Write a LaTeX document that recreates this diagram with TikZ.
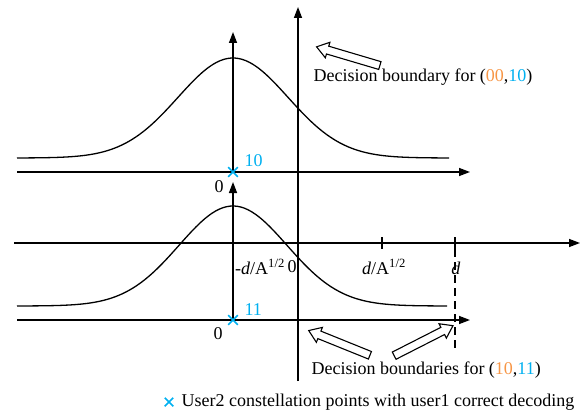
\documentclass[tikz,border=0pt]{standalone}
\usepackage{fontspec}
\setmainfont{Liberation Serif}
\usetikzlibrary{positioning, shapes.misc, shapes.arrows, arrows.meta}
\definecolor{ptorange}{HTML}{F79646}
\definecolor{ptblue}{HTML}{00B0F0}

\begin{document}
\begin{tikzpicture}[x=1pt, y=-1pt, font=\fontsize{18}{21}\selectfont,
    axis/.style={line width=1.4pt, -{Triangle[length=11pt,width=8pt]}},
    curve/.style={line width=1.3pt, smooth, samples=120},
    tick/.style={line width=1.4pt},
    userpt/.style={cross out, draw=ptblue, line width=1.7pt, minimum size=8pt, inner sep=0pt},
    hollow/.style={single arrow, draw, fill=white, line width=1.1pt, minimum height=66pt,
      inner sep=3.5pt, single arrow head extend=4pt, single arrow tip angle=70}]
    \useasboundingbox (0,0) rectangle (587,412);
    % main axes
    \coordinate (mx0) at (14,243);  \coordinate (mx1) at (580,243);
    \coordinate (my0) at (298,381); \coordinate (my1) at (298,7);
    \draw[axis] (mx0) -- (mx1);
    \draw[axis] (my0) -- (my1);
    % upper sub-axes (10)
    \coordinate (ua0) at (17,172); \coordinate (ua1) at (470,172);
    \coordinate (uo) at (233,172); \coordinate (uv1) at (233,32);
    \draw[axis] (ua0) -- (ua1);
    \draw[axis] (uo) -- (uv1);
    \draw[curve, domain=17:449] plot (\x, {158-100*exp(-((\x-233)/55)^2/2)});
    % lower sub-axes (11)
    \coordinate (la0) at (17,320); \coordinate (la1) at (470,320);
    \coordinate (lo) at (233,320); \coordinate (lv1) at (233,182);
    \draw[axis] (la0) -- (la1);
    \draw[axis] (lo) -- (lv1);
    \draw[curve, domain=17:447] plot (\x, {306-100*exp(-((\x-233)/54)^2/2)});
    % ticks
    \draw[tick] (233,237) -- (233,249);
    \draw[tick] (382,237) -- (382,249);
    \draw[tick] (455,237) -- (455,249);
    \draw[line width=1.5pt, dash pattern=on 8pt off 5pt] (455,249) -- (455,348);
    \node (lneg) at (260,267) {-\textit{d}/A\textsuperscript{1/2}};
    \node (lzero) at (292,267) {0};
    \node (lpos) at (384,267) {\textit{d}/A\textsuperscript{1/2}};
    \node (ld) at (456,268) {\textit{d}};
    % constellation points
    \node[userpt] (p10) at (uo) {};
    \node[userpt] (p11) at (lo) {};
    \node[text=ptblue, anchor=west] (t10) at (241,161) {10};
    \node[text=ptblue, anchor=west] (t11) at (241,310) {11};
    \node (z10) at (219,187) {0};
    \node (z11) at (218,334) {0};
    % decision boundary arrows
    \node[hollow, rotate=163.5] (b1) at (351,57) {};
    \node[hollow, rotate=158] (b2) at (342,344) {};
    \node[hollow, rotate=27] (b3) at (421,342) {};
    \node[anchor=west] (c1) at (310,77) {Decision boundary for (\textcolor{ptorange}{00},\textcolor{ptblue}{10})};
    \node[anchor=west] (c2) at (308,370) {Decision boundaries for (\textcolor{ptorange}{10},\textcolor{ptblue}{11})};
    % legend
    \node[userpt, minimum size=7pt, line width=1.5pt] (lg) at (169,402) {};
    \node[anchor=west] (lgt) at (178,402) {User2 constellation points with user1 correct decoding};
  \end{tikzpicture}
\end{document}
